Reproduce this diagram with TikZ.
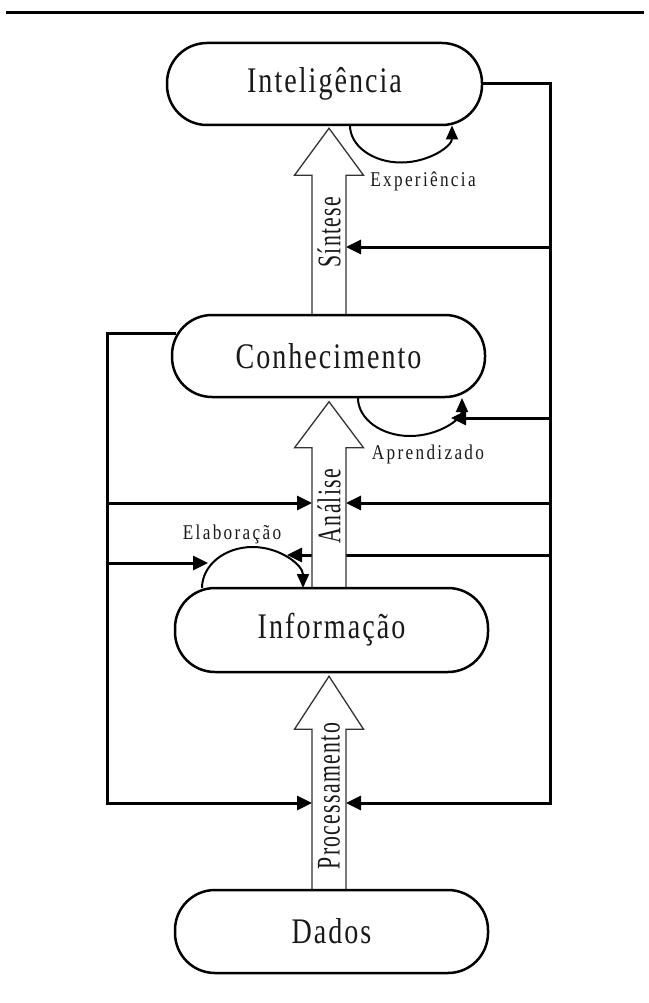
\documentclass[tikz,border=0pt]{standalone}
\usepackage{fontspec}
\setmainfont{Liberation Serif}
\newfontfamily\boxfont[FakeStretch=0.78,LetterSpace=5.6]{Liberation Serif}
\newfontfamily\smallfont[FakeStretch=0.82,LetterSpace=11]{Liberation Serif}
\newfontfamily\rotfont[FakeStretch=0.66,LetterSpace=4]{Liberation Serif}
\usetikzlibrary{arrows.meta,calc}
\pgfdeclarelayer{bg}
\pgfsetlayers{bg,main}
\begin{document}
\begin{tikzpicture}[x=1pt,y=-1pt,
  stage/.style={draw=black,line width=2.5pt,rounded corners=40pt,minimum width=313pt,
    minimum height=83pt,inner sep=0pt,fill=white,text=black!90,
    font=\boxfont\fontsize{36}{36}\selectfont},
  conn/.style={line width=3pt,line join=miter},
  tip/.style={-{Triangle[length=15pt,width=14pt]}},
  loopline/.style={line width=2pt,-{Triangle[length=14pt,width=12pt]}},
  block/.style={draw=black!80,line width=1.3pt,fill=white,line join=miter},
  lbl/.style={font=\smallfont\fontsize{21}{21}\selectfont,inner sep=0pt,text=black!90},
  rot/.style={font=\rotfont\fontsize{33}{33}\selectfont,rotate=90,inner sep=0pt,text=black!90}
]
\useasboundingbox (0,0) rectangle (648,1003);

% top rule
\draw[line width=3pt] (6,13) -- (644,13);

% stages
\node[stage,minimum width=315pt,minimum height=82pt] (int) at (324.5,84) {Inteligência};
\node[stage,minimum height=82pt] (con) at (328.5,356) {Conhecimento};
\node[stage,minimum height=84pt] (inf) at (331.5,630) {Informação};
\node[stage] (dad) at (331.5,931.5) {Dados};

% helper coordinates
\coordinate (ax) at (329,0);
\coordinate (rbot) at (550,803);
\coordinate (lbot) at (107,803);
\coordinate (lstart) at (176,333);

% labels
\node[lbl] (lexp) at (423,181) {Experiência};
\node[lbl] (lapr) at (428,454) {Aprendizado};
\node[lbl] (lela) at (232,534) {Elaboração};

\begin{pgfonlayer}{bg}
% right feedback line
\draw[conn,tip] (int.east) -| (rbot) -- ($(rbot -| ax)+(17,0)$);
\draw[conn,tip] (550,247) -- ($(ax |- 0,247)+(17,0)$);
\draw[conn,tip] (550,418) -- (451,418);
\draw[conn,tip] (550,503) -- ($(ax |- 0,503)+(17,0)$);
\draw[conn,tip] (550,555) -- (287,555);
% left feedback line
\draw[conn,tip] (lstart) -| (lbot) -- ($(lbot -| ax)+(-17,0)$);
\draw[conn,tip] (107,503) -- ($(ax |- 0,503)+(-17,0)$);
\draw[conn,tip] (107,563) -- (208,563);

% block arrows
\draw[block] ($(con.north -| ax)+(-17,0)$) -- ($(int.south -| ax)+(-17,49)$) -- ++(-17.5,0)
  -- ($(int.south -| ax)+(0,2)$) -- ($(int.south -| ax)+(34.5,49)$) -- ++(-17.5,0)
  -- ($(con.north -| ax)+(17,0)$);
\draw[block] ($(inf.north -| ax)+(-17,0)$) -- ($(con.south -| ax)+(-17,49.5)$) -- ++(-17.5,0)
  -- ($(con.south -| ax)+(0,3.5)$) -- ($(con.south -| ax)+(34.5,49.5)$) -- ++(-17.5,0)
  -- ($(inf.north -| ax)+(17,0)$);
\draw[block] ($(dad.north -| ax)+(-17,0)$) -- ($(inf.south -| ax)+(-17,56)$) -- ++(-17.5,0)
  -- ($(inf.south -| ax)+(0,3)$) -- ($(inf.south -| ax)+(34.5,56)$) -- ++(-17.5,0)
  -- ($(dad.north -| ax)+(17,0)$);
\end{pgfonlayer}

% loops
\draw[loopline] (350,125.5) arc[start angle=180,end angle=360,x radius=51pt,y radius=37pt];
\draw[loopline] (358,398) arc[start angle=180,end angle=360,x radius=52pt,y radius=38pt];
\draw[loopline] (202,588) arc[start angle=180,end angle=0,x radius=50.5pt,y radius=41pt];

% rotated texts in block arrows
\node[rot] (tsin) at (329,232) {Síntese};
\node[rot] (tana) at (329,506) {Análise};
\node[rot] (tpro) at (329,796) {Processamento};
\end{tikzpicture}
\end{document}
